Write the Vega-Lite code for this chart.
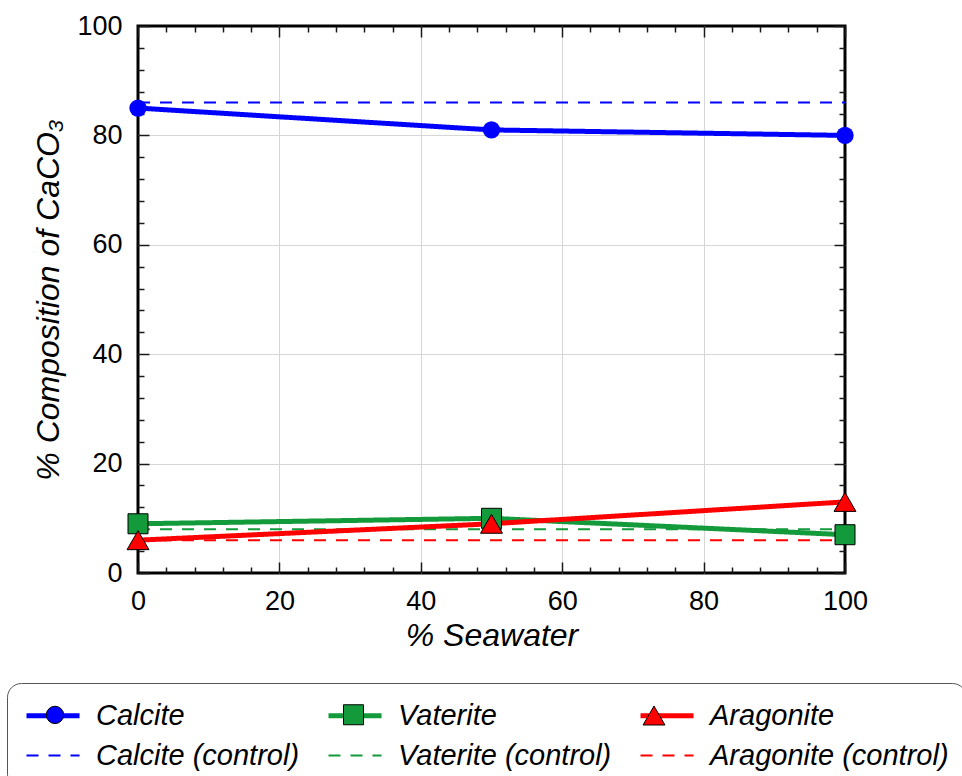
{
  "$schema": "https://vega.github.io/schema/vega-lite/v6.json",
  "width": 707,
  "height": 547,
  "autosize": {"type": "none"},
  "padding": {"left": 138, "top": 26, "right": 117, "bottom": 203},
  "background": "white",
  "config": {
    "font": "Liberation Sans",
    "view": {"stroke": "black", "strokeWidth": 3},
    "axis": {
      "domain": false,
      "labelFont": "Liberation Sans",
      "labelFontSize": 27,
      "labelColor": "black",
      "labelFlush": false,
      "labelOverlap": false,
      "titleFont": "Liberation Sans",
      "titleFontSize": 32,
      "titleFontStyle": "italic",
      "titleFontWeight": "normal",
      "titleColor": "black",
      "tickColor": "#1a1a1a",
      "tickWidth": 1.5,
      "gridColor": "#d6d6d6",
      "gridWidth": 1
    }
  },
  "datasets": {
    "lines": [
      {"series": "Calcite (control)", "seawater": 0, "pct": 86},
      {"series": "Calcite (control)", "seawater": 100, "pct": 86},
      {"series": "Vaterite (control)", "seawater": 0, "pct": 8},
      {"series": "Vaterite (control)", "seawater": 100, "pct": 8},
      {"series": "Aragonite (control)", "seawater": 0, "pct": 6},
      {"series": "Aragonite (control)", "seawater": 100, "pct": 6},
      {"series": "Calcite", "seawater": 0, "pct": 85},
      {"series": "Calcite", "seawater": 50, "pct": 81},
      {"series": "Calcite", "seawater": 100, "pct": 80},
      {"series": "Vaterite", "seawater": 0, "pct": 9},
      {"series": "Vaterite", "seawater": 50, "pct": 10},
      {"series": "Vaterite", "seawater": 100, "pct": 7},
      {"series": "Aragonite", "seawater": 0, "pct": 6},
      {"series": "Aragonite", "seawater": 50, "pct": 9},
      {"series": "Aragonite", "seawater": 100, "pct": 13}
    ],
    "measured": [
      {"series": "Calcite", "seawater": 0, "pct": 85},
      {"series": "Calcite", "seawater": 50, "pct": 81},
      {"series": "Calcite", "seawater": 100, "pct": 80},
      {"series": "Vaterite", "seawater": 0, "pct": 9},
      {"series": "Vaterite", "seawater": 50, "pct": 10},
      {"series": "Vaterite", "seawater": 100, "pct": 7},
      {"series": "Aragonite", "seawater": 0, "pct": 6},
      {"series": "Aragonite", "seawater": 50, "pct": 9},
      {"series": "Aragonite", "seawater": 100, "pct": 13}
    ]
  },
  "layer": [
    {
      "data": {"name": "lines"},
      "mark": {"type": "line"},
      "encoding": {
        "x": {
          "field": "seawater", "type": "quantitative",
          "scale": {"domain": [0, 100], "nice": false, "zero": false},
          "axis": {
            "orient": "bottom",
            "title": "% Seawater",
            "values": [0, 4, 8, 12, 16, 20, 24, 28, 32, 36, 40, 44, 48, 52, 56, 60, 64, 68, 72, 76, 80, 84, 88, 92, 96, 100],
            "labelExpr": "datum.value % 20 === 0 ? datum.label : ''",
            "tickSize": {"condition": {"test": "datum.value % 20 === 0", "value": -11}, "value": -6},
            "grid": true,
            "gridOpacity": {"condition": {"test": "datum.value % 20 === 0 && datum.value > 0 && datum.value < 100", "value": 1}, "value": 0},
            "labelPadding": 26,
            "titlePadding": 1
          }
        },
        "y": {
          "field": "pct", "type": "quantitative",
          "scale": {"domain": [0, 100], "nice": false},
          "axis": {
            "orient": "left",
            "title": "% Composition of CaCO₃",
            "values": [0, 4, 8, 12, 16, 20, 24, 28, 32, 36, 40, 44, 48, 52, 56, 60, 64, 68, 72, 76, 80, 84, 88, 92, 96, 100],
            "labelExpr": "datum.value % 20 === 0 ? datum.label : ''",
            "tickSize": {"condition": {"test": "datum.value % 20 === 0", "value": -11}, "value": -6},
            "grid": true,
            "gridOpacity": {"condition": {"test": "datum.value % 20 === 0 && datum.value > 0 && datum.value < 100", "value": 1}, "value": 0},
            "labelPadding": 27,
            "titlePadding": 11
          }
        },
        "color": {
          "field": "series", "type": "nominal",
          "scale": {
            "domain": ["Calcite", "Vaterite", "Aragonite", "Calcite (control)", "Vaterite (control)", "Aragonite (control)"],
            "range": ["#0000FF", "#139A3B", "#FF0000", "#0000FF", "#139A3B", "#FF0000"]
          },
          "legend": {
            "title": null,
            "orient": "none",
            "legendX": -131,
            "legendY": 657,
            "direction": "horizontal",
            "columns": 3,
            "symbolType": "M-1,0H3.08",
            "symbolSize": 676,
            "labelOffset": 41,
            "labelFont": "Liberation Sans",
            "labelFontSize": 29,
            "labelFontStyle": "italic",
            "labelColor": "black",
            "labelLimit": 400,
            "columnPadding": 18,
            "rowPadding": 10,
            "padding": 17,
            "strokeColor": "#555555",
            "fillColor": "white",
            "cornerRadius": 14
          }
        },
        "strokeDash": {
          "field": "series", "type": "nominal",
          "scale": {
            "domain": ["Calcite", "Vaterite", "Aragonite", "Calcite (control)", "Vaterite (control)", "Aragonite (control)"],
            "range": [[1, 0], [1, 0], [1, 0], [12, 10], [12, 10], [12, 10]]
          }
        },
        "strokeWidth": {
          "field": "series", "type": "nominal",
          "scale": {
            "type": "ordinal",
            "domain": ["Calcite", "Vaterite", "Aragonite", "Calcite (control)", "Vaterite (control)", "Aragonite (control)"],
            "range": [5, 5, 5, 2, 2, 2]
          }
        }
      }
    },
    {
      "data": {"name": "measured"},
      "mark": {"type": "point", "filled": true, "opacity": 1, "stroke": "black", "strokeWidth": 1},
      "encoding": {
        "x": {
          "field": "seawater", "type": "quantitative",
          "scale": {"domain": [0, 100], "nice": false, "zero": false},
          "axis": {
            "orient": "top",
            "title": null,
            "labels": false,
            "grid": false,
            "values": [0, 4, 8, 12, 16, 20, 24, 28, 32, 36, 40, 44, 48, 52, 56, 60, 64, 68, 72, 76, 80, 84, 88, 92, 96, 100],
            "tickSize": {"condition": {"test": "datum.value % 20 === 0", "value": -11}, "value": -6}
          }
        },
        "y": {
          "field": "pct", "type": "quantitative",
          "scale": {"domain": [0, 100], "nice": false},
          "axis": {
            "orient": "right",
            "title": null,
            "labels": false,
            "grid": false,
            "values": [0, 4, 8, 12, 16, 20, 24, 28, 32, 36, 40, 44, 48, 52, 56, 60, 64, 68, 72, 76, 80, 84, 88, 92, 96, 100],
            "tickSize": {"condition": {"test": "datum.value % 20 === 0", "value": -11}, "value": -6}
          }
        },
        "fill": {
          "field": "series", "type": "nominal",
          "scale": {"domain": ["Calcite", "Vaterite", "Aragonite"], "range": ["#0000FF", "#139A3B", "#FF0000"]},
          "legend": {
            "title": null,
            "orient": "none",
            "legendX": -94.5,
            "legendY": 678,
            "direction": "horizontal",
            "columns": 3,
            "labelExpr": "''",
            "labelOffset": 0,
            "labelFontSize": 10,
            "columnPadding": 274.5,
            "padding": 0,
            "symbolStrokeColor": "black",
            "symbolStrokeWidth": 1
          }
        },
        "shape": {
          "field": "series", "type": "nominal",
          "scale": {"domain": ["Calcite", "Vaterite", "Aragonite"], "range": ["circle", "square", "triangle-up"]}
        },
        "size": {
          "field": "series", "type": "nominal",
          "scale": {"type": "ordinal", "domain": ["Calcite", "Vaterite", "Aragonite"], "range": [300, 400, 480]}
        },
        "strokeOpacity": {"condition": {"test": "datum.series === 'Calcite'", "value": 0}, "value": 1}
      }
    }
  ],
  "resolve": {"axis": {"x": "independent", "y": "independent"}}
}
